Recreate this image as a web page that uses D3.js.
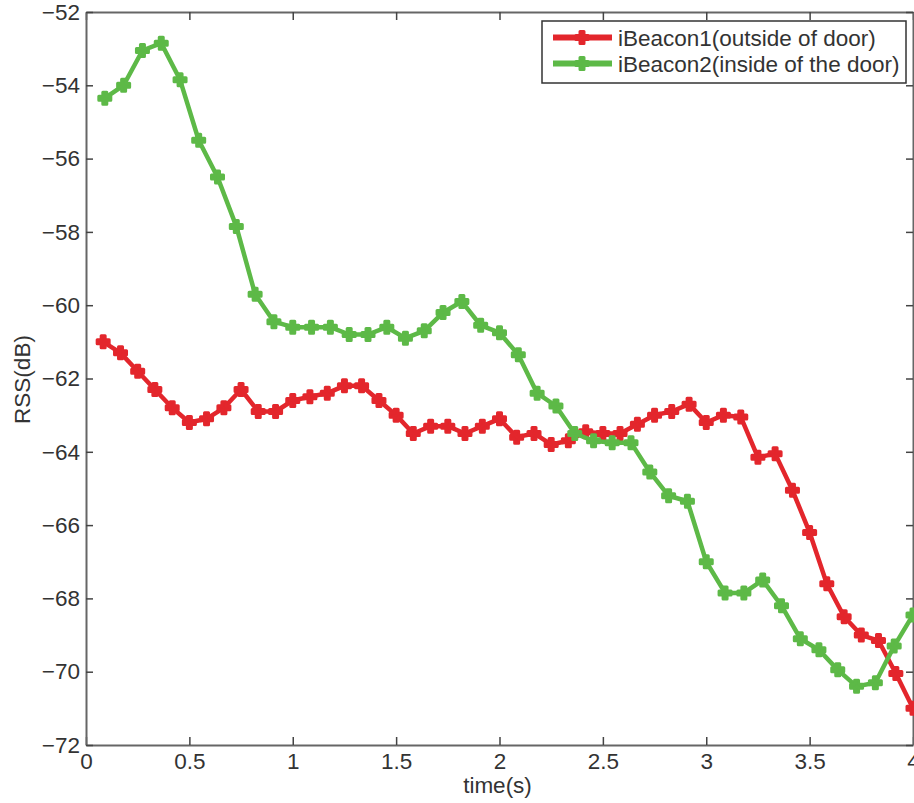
<!DOCTYPE html>
<html>
<head>
<meta charset="utf-8">
<script src="https://cdn.jsdelivr.net/npm/d3@7"></script>
<style>
  html, body { margin: 0; padding: 0; background: #fff; }
  svg { display: block; font-family: "Liberation Sans", Arial, sans-serif; }
</style>
</head>
<body>
<svg id="chart" width="914" height="803"></svg>
<script>
// ---- data ----
const redTime = [0.083,0.167,0.25,0.333,0.417,0.5,0.583,0.667,0.75,0.833,0.917,1.0,
  1.083,1.167,1.25,1.333,1.417,1.5,1.583,1.667,1.75,1.833,1.917,2.0,
  2.083,2.167,2.25,2.333,2.417,2.5,2.583,2.667,2.75,2.833,2.917,3.0,
  3.083,3.167,3.25,3.333,3.417,3.5,3.583,3.667,3.75,3.833,3.917,4.0];
const redRSS = [-61.0,-61.3,-61.8,-62.3,-62.8,-63.2,-63.1,-62.8,-62.3,-62.9,
  -62.9,-62.6,-62.5,-62.4,-62.2,-62.2,-62.6,-63.0,-63.5,-63.3,
  -63.3,-63.5,-63.3,-63.1,-63.6,-63.5,-63.8,-63.7,-63.45,-63.5,
  -63.5,-63.25,-63.0,-62.9,-62.7,-63.2,-63.0,-63.05,-64.15,-64.05,
  -65.05,-66.2,-67.6,-68.5,-69.0,-69.15,-70.05,-71.0];
const greenTime = [0.091,0.182,0.273,0.364,0.455,0.545,0.636,0.727,0.818,0.909,1.0,
  1.091,1.182,1.273,1.364,1.455,1.545,1.636,1.727,1.818,1.909,2.0,
  2.091,2.182,2.273,2.364,2.455,2.545,2.636,2.727,2.818,2.909,3.0,
  3.091,3.182,3.273,3.364,3.455,3.545,3.636,3.727,3.818,3.909,4.0];
const greenRSS = [-54.35,-54.0,-53.05,-52.85,-53.85,-55.5,-56.5,-57.85,-59.7,-60.45,
  -60.6,-60.6,-60.6,-60.8,-60.8,-60.6,-60.9,-60.7,-60.2,-59.9,
  -60.55,-60.75,-61.35,-62.4,-62.75,-63.5,-63.7,-63.75,-63.75,-64.55,
  -65.2,-65.35,-67.0,-67.85,-67.85,-67.5,-68.2,-69.1,-69.4,-69.95,
  -70.4,-70.3,-69.3,-68.45];
const seriesNames = ["iBeacon1(outside of door)", "iBeacon2(inside of the door)"];
const xTicks = [0,0.5,1,1.5,2,2.5,3,3.5,4];
const yTicks = [-72,-70,-68,-66,-64,-62,-60,-58,-56,-54,-52];
const xLabel = "time(s)";
const yLabel = "RSS(dB)";

// ---- layout ----
const svg = d3.select("#chart");
const L = 86, R = 913, T = 12, B = 745;
const fs = 22.5;
const txtColor = "#333";
const axisColor = "#666";
const colors = ["#e3262c", "#5db947"];

const x = d3.scaleLinear().domain([0, 4]).range([L, R]);
const y = d3.scaleLinear().domain([-72, -52]).range([B, T]);

svg.append("rect").attr("width", 914).attr("height", 803).attr("fill", "#fff");

function styleAxis(g) {
  g.selectAll(".domain").attr("stroke", axisColor).attr("stroke-width", 2);
  g.selectAll(".tick line").attr("stroke", "#444").attr("stroke-width", 1.5);
  g.selectAll(".tick text").attr("fill", txtColor).style("font-size", fs + "px")
    .style("font-family", '"Liberation Sans", Arial, sans-serif');
}

svg.append("g").attr("transform", `translate(0,${B})`)
  .call(d3.axisBottom(x).tickValues(xTicks).tickSize(-8).tickSizeOuter(0).tickPadding(8)
    .tickFormat(d3.format("")))
  .call(styleAxis);
svg.append("g").attr("transform", `translate(0,${T})`)
  .call(d3.axisTop(x).tickValues(xTicks).tickSize(-8).tickSizeOuter(0).tickFormat(""))
  .call(styleAxis);
svg.append("g").attr("transform", `translate(${L},0)`)
  .call(d3.axisLeft(y).tickValues(yTicks).tickSize(-7).tickSizeOuter(0).tickPadding(6))
  .call(styleAxis);
svg.append("g").attr("transform", `translate(${R},0)`)
  .call(d3.axisRight(y).tickValues(yTicks).tickSize(-7).tickSizeOuter(0).tickFormat(""))
  .call(styleAxis);

// axis labels
svg.append("text").attr("x", (L + R) / 2 - 2).attr("y", 793)
  .attr("text-anchor", "middle").attr("fill", txtColor).style("font-size", fs + "px")
  .text(xLabel);
svg.append("text").attr("transform", `translate(29.5,${(T + B) / 2 + 1}) rotate(-90)`)
  .attr("text-anchor", "middle").attr("fill", txtColor).style("font-size", fs + "px")
  .text(yLabel);

// series
const marker = d3.symbol().type(d3.symbolCross).size(80);
const series = [
  { t: redTime, v: redRSS, c: colors[0] },
  { t: greenTime, v: greenRSS, c: colors[1] }
];
const line = d3.line().x(d => x(d[0])).y(d => y(d[1]));
series.forEach(s => {
  const pts = s.t.map((t, i) => [t, s.v[i]]);
  svg.append("path").datum(pts).attr("d", line)
    .attr("fill", "none").attr("stroke", s.c).attr("stroke-width", 4.5)
    .attr("stroke-linejoin", "round");
  svg.append("g").selectAll("path").data(pts).join("path")
    .attr("transform", d => `translate(${x(d[0])},${y(d[1])})`)
    .attr("d", marker)
    .attr("fill", s.c).attr("stroke", s.c).attr("stroke-width", 3)
    .attr("stroke-linejoin", "round");
});

// legend
const lg = svg.append("g");
lg.append("rect").attr("x", 542).attr("y", 21).attr("width", 364).attr("height", 62)
  .attr("fill", "#fff").attr("stroke", "#333").attr("stroke-width", 1.5);
const legY = [37.5, 63.5];
seriesNames.forEach((name, i) => {
  lg.append("line").attr("x1", 553).attr("x2", 612).attr("y1", legY[i]).attr("y2", legY[i])
    .attr("stroke", colors[i]).attr("stroke-width", 6);
  lg.append("path").attr("transform", `translate(582,${legY[i]})`).attr("d", marker)
    .attr("fill", colors[i]).attr("stroke", colors[i]).attr("stroke-width", 3)
    .attr("stroke-linejoin", "round");
  lg.append("text").attr("x", 618).attr("y", legY[i] + 8)
    .attr("fill", txtColor).style("font-size", fs + "px").text(name);
});
</script>
</body>
</html>
